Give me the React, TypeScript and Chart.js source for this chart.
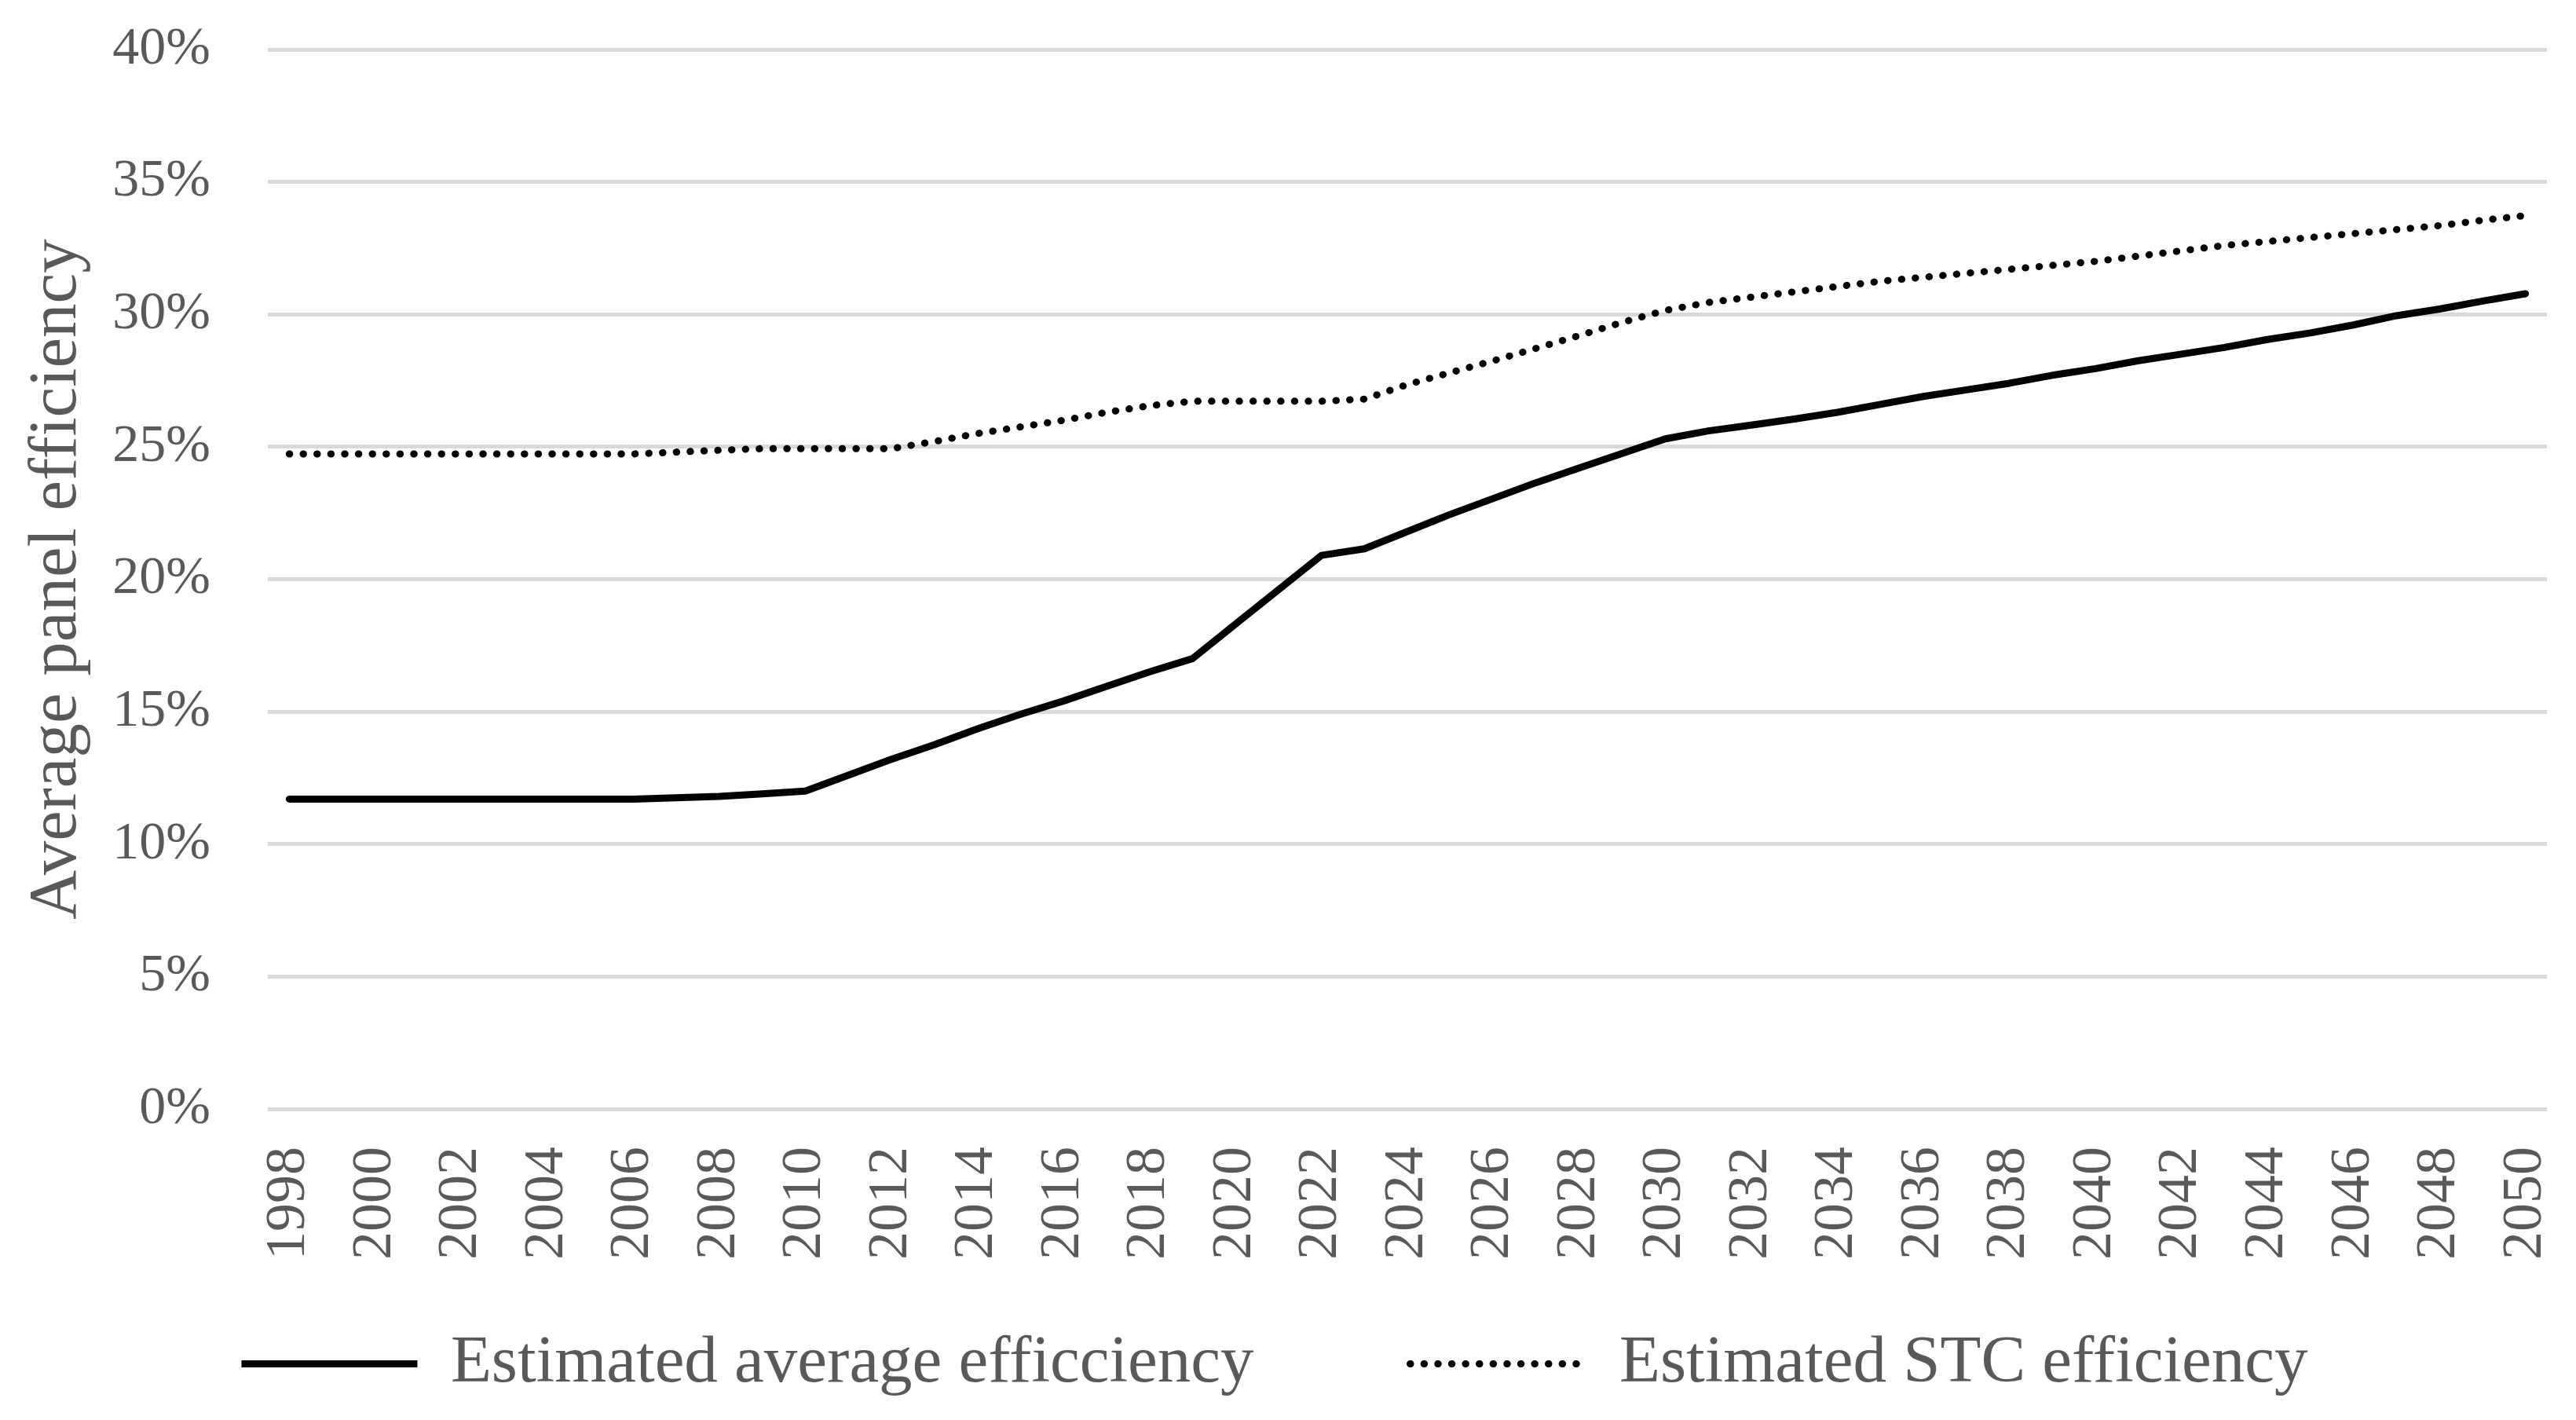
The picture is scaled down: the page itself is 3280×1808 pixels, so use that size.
import React, { useEffect, useRef } from 'react';
import { Chart, registerables } from 'chart.js';

Chart.register(...registerables);

const years: string[] = [
  '1998', '1999', '2000', '2001', '2002', '2003', '2004', '2005', '2006', '2007',
  '2008', '2009', '2010', '2011', '2012', '2013', '2014', '2015', '2016', '2017',
  '2018', '2019', '2020', '2021', '2022', '2023', '2024', '2025', '2026', '2027',
  '2028', '2029', '2030', '2031', '2032', '2033', '2034', '2035', '2036', '2037',
  '2038', '2039', '2040', '2041', '2042', '2043', '2044', '2045', '2046', '2047',
  '2048', '2049', '2050',
];

// Estimated average efficiency (%)
const averageEfficiency: number[] = [
  11.7, 11.7, 11.7, 11.7, 11.7, 11.7, 11.7, 11.7, 11.7, 11.75,
  11.8, 11.9, 12.0, 12.6, 13.2, 13.75, 14.35, 14.9, 15.4, 15.95,
  16.5, 17.0, 18.3, 19.6, 20.9, 21.15, 21.8, 22.45, 23.05, 23.65,
  24.2, 24.75, 25.3, 25.6, 25.82, 26.05, 26.3, 26.6, 26.9, 27.15,
  27.4, 27.7, 27.95, 28.25, 28.5, 28.75, 29.05, 29.3, 29.6, 29.95,
  30.2, 30.5, 30.78,
];

// Estimated STC efficiency (%)
const stcEfficiency: number[] = [
  24.73, 24.73, 24.73, 24.73, 24.73, 24.73, 24.73, 24.73, 24.73, 24.8,
  24.87, 24.93, 24.93, 24.93, 24.93, 25.2, 25.5, 25.75, 26.0, 26.3,
  26.55, 26.72, 26.72, 26.72, 26.72, 26.8, 27.35, 27.8, 28.25, 28.72,
  29.2, 29.7, 30.15, 30.45, 30.65, 30.85, 31.05, 31.25, 31.4, 31.55,
  31.7, 31.85, 32.0, 32.2, 32.4, 32.6, 32.75, 32.9, 33.05, 33.2,
  33.35, 33.55, 33.73,
];

const seriesLabels = ['Estimated average efficciency', 'Estimated STC efficiency'];
const yAxisTitle = 'Average panel efficiency';

const FONT = "'Liberation Serif', 'Times New Roman', serif";
const TEXT = '#595959';
const LEGEND_ITEM_GAP = 199; // horizontal gap between legend items
const LEGEND_TOP_GAP = 86; // vertical gap between the legend box top and its row

// Keeps the wide horizontal legend spacing while pulling the row up.
const legendShift = {
  id: 'legendShift',
  afterLayout(chart: any) {
    const l = chart.legend;
    if (!l) return;
    l.top -= LEGEND_ITEM_GAP - LEGEND_TOP_GAP;
  },
};

export default function App() {
  const ref = useRef<HTMLCanvasElement | null>(null);

  useEffect(() => {
    document.body.style.margin = '0';
    const canvas = ref.current;
    if (!canvas) return;
    const chart = new Chart(canvas, {
      type: 'line',
      data: {
        labels: years,
        datasets: [
          {
            label: seriesLabels[0],
            data: averageEfficiency,
            borderColor: '#000000',
            backgroundColor: '#000000',
            borderWidth: 9,
            borderCapStyle: 'round',
            borderJoinStyle: 'round',
            pointRadius: 0,
            tension: 0,
            fill: false,
          },
          {
            label: seriesLabels[1],
            data: stcEfficiency,
            borderColor: '#000000',
            backgroundColor: '#000000',
            borderWidth: 9,
            borderDash: [0.5, 17.1],
            borderCapStyle: 'round',
            pointRadius: 0,
            tension: 0,
            fill: false,
          },
        ],
      },
      plugins: [legendShift],
      options: {
        animation: false,
        responsive: false,
        devicePixelRatio: 1,
        layout: { padding: { top: 63, left: 3, right: 37, bottom: 11 } },
        plugins: {
          tooltip: { enabled: false },
          legend: {
            position: 'bottom',
            maxHeight: 189,
            labels: {
              usePointStyle: true,
              pointStyle: 'line',
              pointStyleWidth: 224,
              padding: LEGEND_ITEM_GAP,
              color: TEXT,
              font: { family: FONT, size: 85 },
              generateLabels: (c: any) => {
                const items = (Chart as any).defaults.plugins.legend.labels.generateLabels(c);
                items.forEach((it: any, i: number) => {
                  const ds: any = c.data.datasets[i];
                  it.pointStyle = 'line';
                  it.lineWidth = ds.borderWidth;
                  it.lineDash = ds.borderDash || [];
                  it.lineCap = ds.borderDash ? 'round' : 'butt';
                  it.strokeStyle = ds.borderColor;
                  it.fillStyle = ds.borderColor;
                  it.fontColor = TEXT;
                });
                return items;
              },
            },
          },
        },
        scales: {
          x: {
            type: 'category',
            offset: true,
            grid: { display: false, drawTicks: false },
            border: { display: false },
            ticks: {
              autoSkip: false,
              minRotation: 90,
              maxRotation: 90,
              padding: 48,
              color: TEXT,
              font: { family: FONT, size: 72 },
              callback: (_v: any, i: number) => (i % 2 === 0 ? years[i] : ''),
            },
            afterFit: (s: any) => {
              s.height = 196;
              s.paddingLeft = 0;
              s.paddingRight = 0;
            },
          },
          y: {
            min: 0,
            max: 40,
            grid: { color: '#d9d9d9', lineWidth: 5, drawTicks: false },
            border: { display: false },
            ticks: {
              stepSize: 5,
              padding: 73,
              color: TEXT,
              font: { family: FONT, size: 68 },
              callback: (v: any) => `${v}%`,
            },
            title: {
              display: true,
              text: yAxisTitle,
              color: TEXT,
              font: { family: FONT, size: 87 },
              padding: { top: 18, bottom: 0 },
            },
            afterFit: (s: any) => {
              s.width = 338;
              s.paddingTop = 0;
              s.paddingBottom = 0;
            },
          },
        },
      },
    } as any);
    return () => chart.destroy();
  }, []);

  return (
    <div style={{ width: 3280, height: 1808, background: '#ffffff' }}>
      <canvas ref={ref} width={3280} height={1808} style={{ display: 'block' }} />
    </div>
  );
}
